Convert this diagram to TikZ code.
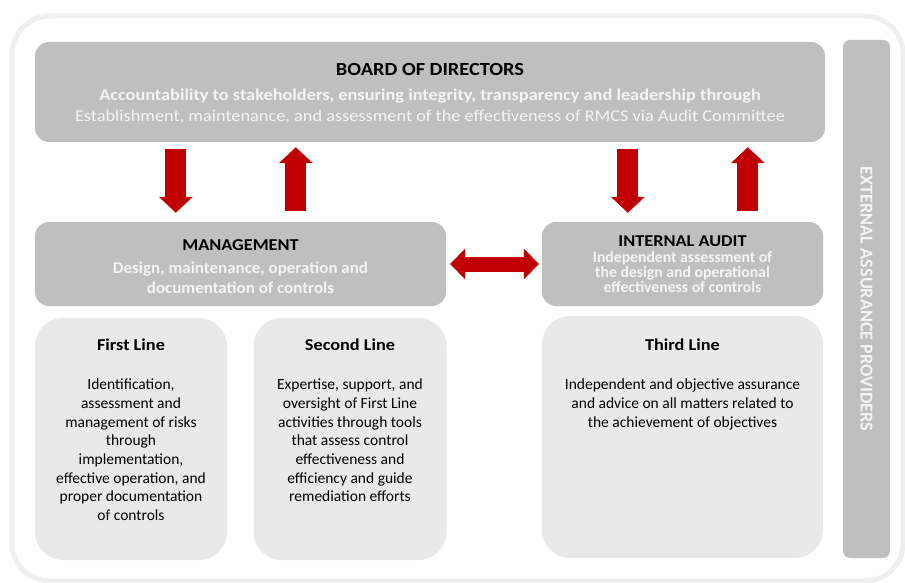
\documentclass[tikz,border=0pt]{standalone}
\usepackage{fontspec}
\setmainfont{Carlito}
\usepackage{tikz}
\usetikzlibrary{
  arrows.meta,
  positioning
}

\definecolor{boxgrey}{HTML}{BFBFBF}
\definecolor{linegrey}{HTML}{E9E9E9}
\definecolor{framegrey}{HTML}{EFEFEF}
\definecolor{arrowred}{HTML}{C00000}
\definecolor{softwhite}{HTML}{F4F4F4}

\tikzset{
  darkbox/.style={fill=boxgrey, rounded corners=14pt, inner sep=0pt},
  linebox/.style={fill=linegrey, rounded corners=28pt, inner sep=0pt},
  heading/.style={font=\bfseries\fontsize{18.5}{20}\selectfont\addfontfeature{FakeStretch=1.1},
    text=black, inner sep=0pt},
  subhead/.style={font=\bfseries\fontsize{16.6}{18}\selectfont\addfontfeature{FakeStretch=1.1},
    text=black, inner sep=0pt},
  whitetext/.style={font=\bfseries\fontsize{16.5}{20}\selectfont, text=softwhite, align=center, inner sep=0pt},
  bodytext/.style={font=\fontsize{15.5}{18.7}\selectfont, align=center, inner sep=0pt, anchor=north},
  downarrow/.style={draw=arrowred, line width=21pt, -{Triangle[width=33pt,length=16pt]}},
  duoarrow/.style={draw=arrowred, line width=15pt,
    {Triangle[width=30pt,length=15pt]}-{Triangle[width=30pt,length=15pt]}}
}

\begin{document}
\begin{tikzpicture}[x=1pt, y=-1pt]
  \useasboundingbox (0,0) rectangle (905,583);
  % outer frame
  \draw[framegrey, line width=5pt, rounded corners=38pt] (12,16) rectangle (903,581);

  % main boxes
  \node[darkbox, minimum width=790pt, minimum height=100pt] (board) at (430,92) {};
  \node[darkbox, rounded corners=7pt, minimum width=47pt, minimum height=518pt] (external) at (866.5,299) {};
  \node[darkbox, minimum width=411pt, minimum height=84pt] (mgmt) at (240.5,264) {};
  \node[darkbox, minimum width=281pt, minimum height=84pt] (audit) at (682.5,264) {};

  % lines of defence
  \node[linebox, minimum width=192pt, minimum height=242pt] (first) at (131,439) {};
  \node[linebox, minimum width=193pt, minimum height=242pt] (second) at (350,439) {};
  \node[linebox, minimum width=281pt, minimum height=242pt] (third) at (682.5,437) {};

  % texts
  \node[heading] (boardtitle) at (430,69) {BOARD OF DIRECTORS};
  \node[whitetext, font=\bfseries\fontsize{16.5}{21}\selectfont\addfontfeature{FakeStretch=1.11}] (boardtext) at (430,106)
    {Accountability to stakeholders, ensuring integrity, transparency and leadership through\\
     \mdseries Establishment, maintenance, and assessment of the effectiveness of RMCS via Audit Committee};
  \node[subhead] (mgmttitle) at (240.5,245) {MANAGEMENT};
  \node[whitetext, font=\bfseries\fontsize{16.5}{20}\selectfont\addfontfeature{FakeStretch=1.03}] (mgmttext) at (240.5,277.5)
    {Design, maintenance, operation and\\documentation of controls};
  \node[subhead] (audittitle) at (682.5,241) {INTERNAL AUDIT};
  \node[whitetext, font=\bfseries\fontsize{15.7}{15}\selectfont] (audittext) at (682.5,272.5)
    {Independent assessment of\\the design and operational\\effectiveness of controls};
  \node[font=\bfseries\fontsize{18.2}{20}\selectfont, text=softwhite, rotate=-90] (exttext)
    at (external.center) {EXTERNAL ASSURANCE PROVIDERS};

  \node[subhead] (firsttitle) at ([yshift=-27pt]first.north) {First Line};
  \node[bodytext] (firsttext) at ([yshift=-61pt]first.north)
    {Identification,\\assessment and\\management of risks\\through\\implementation,\\effective operation, and\\proper documentation\\of controls};
  \node[subhead] (secondtitle) at ([yshift=-27pt]second.north) {Second Line};
  \node[bodytext] (secondtext) at ([yshift=-61pt]second.north)
    {Expertise, support, and\\oversight of First Line\\activities through tools\\that assess control\\effectiveness and\\efficiency and guide\\remediation efforts};
  \node[subhead] (thirdtitle) at ([yshift=-29pt]third.north) {Third Line};
  \node[bodytext] (thirdtext) at ([yshift=-63pt]third.north)
    {Independent and objective assurance\\and advice on all matters related to\\the achievement of objectives};

  % reporting arrows
  \draw[downarrow, shorten <=7pt, shorten >=9pt]
    ([xshift=141pt]board.south west) -- ([xshift=141pt]mgmt.north west);
  \draw[downarrow, shorten <=11pt, shorten >=5pt]
    ([xshift=261pt]mgmt.north west) -- ([xshift=261pt]board.south west);
  \draw[downarrow, shorten <=7pt, shorten >=9pt]
    ([xshift=593pt]board.south west) -- ([xshift=86pt]audit.north west);
  \draw[downarrow, shorten <=11pt, shorten >=5pt]
    ([xshift=206pt]audit.north west) -- ([xshift=713pt]board.south west);
  \draw[duoarrow, shorten <=4pt, shorten >=3pt] (mgmt.east) -- (audit.west);
\end{tikzpicture}
\end{document}
